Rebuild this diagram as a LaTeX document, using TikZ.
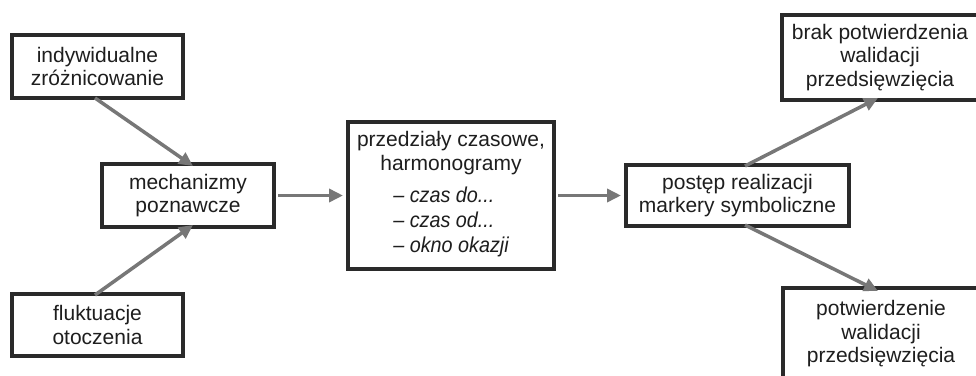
\documentclass[tikz,border=0pt]{standalone}
\usepackage{fontspec}
\setmainfont{Liberation Sans}
\newfontfamily\narrowsans{Liberation Sans}[FakeStretch=0.92]
\usetikzlibrary{arrows.meta,calc}
\definecolor{boxline}{HTML}{2A2A2A}
\definecolor{textgray}{HTML}{1E1E1E}
\definecolor{arrowgray}{HTML}{777777}
\tikzset{
  block/.style={draw=boxline, line width=4pt, fill=white, text=textgray,
    align=center, inner sep=0pt,
    font=\fontsize{21}{23.5}\selectfont},
  flow/.style={draw=arrowgray, line width=3.5pt,
    -{Triangle[length=14pt,width=13pt]}},
}
\begin{document}
\begin{tikzpicture}[x=1pt,y=-1pt]
  \useasboundingbox (0,0) rectangle (976,375);
  \begin{scope}
    \clip (0,0) rectangle (976,375);

    % input factors
    \node[block, minimum width=171pt, minimum height=63pt] (ind) at (97.5,66.5)
      {indywidualne\\zróżnicowanie};
    \node[block, minimum width=171pt, minimum height=62pt] (fluk) at (97.5,325)
      {fluktuacje\\otoczenia};

    % cognitive mechanisms
    \node[block, minimum width=172pt, minimum height=63pt] (mech) at (188,195.5)
      {mechanizmy\\poznawcze};

    % time frames
    \node[block, minimum width=206pt, minimum height=147pt] (czas) at (451,195.5)
      {przedziały czasowe,\\harmonogramy\\[9pt]
       {\narrowsans\itshape\fontsize{21.5}{25}\selectfont
        \begin{tabular}{@{}l@{}}– czas do...\\– czas od...\\– okno okazji\end{tabular}}};

    % progress
    \node[block, minimum width=223pt, minimum height=61pt] (post) at (737.5,195.5)
      {postęp realizacji\\markery symboliczne};

    % outcomes
    \node[block, minimum width=196pt, minimum height=85pt] (brak) at (880,57.5)
      {brak potwierdzenia\\walidacji\\przedsięwzięcia};
    \node[block, minimum width=196pt, minimum height=92pt] (potw) at (881,334)
      {potwierdzenie\\walidacji\\przedsięwzięcia};

    % connectors
    \draw[flow] ([xshift=-2.5pt,yshift=2pt]ind.south) -- ([xshift=5pt,yshift=-4pt]mech.north);
    \draw[flow] ([xshift=-2.5pt,yshift=-3pt]fluk.north) -- ([xshift=5pt,yshift=4pt]mech.south);
    \draw[flow] ([xshift=2pt]mech.east) -- ([xshift=-3pt]czas.west);
    \draw[flow] ([xshift=2pt]czas.east) -- ([xshift=-3pt]post.west);
    \draw[flow] ([xshift=7.5pt,yshift=-3pt]post.north) -- ([xshift=-2pt,yshift=4pt]brak.south);
    \draw[flow] ([xshift=7.5pt,yshift=3pt]post.south) -- ([xshift=-3pt,yshift=-5pt]potw.north);
  \end{scope}
\end{tikzpicture}
\end{document}
